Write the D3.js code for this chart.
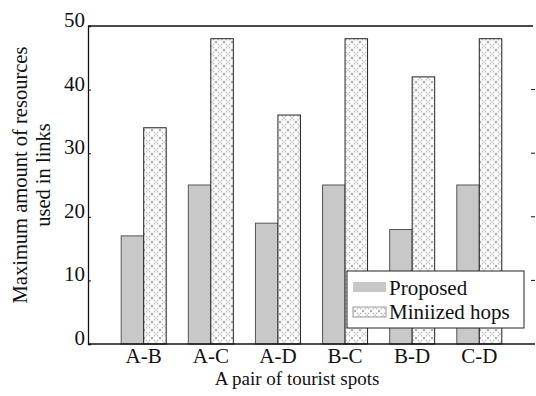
<!DOCTYPE html>
<html>
<head>
<meta charset="utf-8">
<script src="https://cdn.jsdelivr.net/npm/d3@7"></script>
<style>
  body { margin: 0; background: #fff; }
</style>
</head>
<body>
<div id="chart"></div>
<script>
var pairs = ["A-B", "A-C", "A-D", "B-C", "B-D", "C-D"];
var proposed = [17, 25, 19, 25, 18, 25];
var minHops = [34, 48, 36, 48, 42, 48];
var yTicks = [0, 10, 20, 30, 40, 50];
var seriesNames = ["Proposed", "Miniized hops"];

var serif = "'Liberation Serif'";

var margin = {top: 26, right: 1, bottom: 52, left: 88},
    width = 536 - margin.left - margin.right,
    height = 396 - margin.top - margin.bottom;

var svg = d3.select("#chart")
  .append("svg")
    .attr("width", 536)
    .attr("height", 396);

var defs = svg.append("defs");
var pat = defs.append("pattern")
    .attr("id", "xhatch")
    .attr("patternUnits", "userSpaceOnUse")
    .attr("width", 8)
    .attr("height", 8);
pat.append("rect").attr("width", 8).attr("height", 8).attr("fill", "#fff");
pat.append("path")
    .attr("d", "M0,0L8,8M8,0L0,8")
    .attr("stroke", "#a8a8a8")
    .attr("stroke-width", 1.1)
    .attr("stroke-dasharray", "1.4,1.1");

var g = svg.append("g")
    .attr("transform", "translate(" + margin.left + "," + margin.top + ")");

var x = d3.scalePoint()
    .domain(pairs)
    .range([0, width])
    .padding(0.83);

var y = d3.scaleLinear()
    .domain([0, 50])
    .range([height, 0]);

var barW = 22.5;

// proposed bars
g.append("g")
  .selectAll("rect")
  .data(pairs)
  .enter()
  .append("rect")
    .attr("x", function(d) { return x(d) - barW; })
    .attr("y", function(d, i) { return y(proposed[i]); })
    .attr("width", barW)
    .attr("height", function(d, i) { return height - y(proposed[i]); })
    .attr("fill", "#c8c8c8")
    .attr("stroke", "#555")
    .attr("stroke-width", 1);

// minimized hops bars
g.append("g")
  .selectAll("rect")
  .data(pairs)
  .enter()
  .append("rect")
    .attr("x", function(d) { return x(d); })
    .attr("y", function(d, i) { return y(minHops[i]); })
    .attr("width", barW)
    .attr("height", function(d, i) { return height - y(minHops[i]); })
    .attr("fill", "url(#xhatch)")
    .attr("stroke", "#222")
    .attr("stroke-width", 1);

// left axis
var yAxis = g.append("g")
    .call(d3.axisRight(y).tickValues(yTicks).tickSize(3).tickFormat(""));
yAxis.select(".domain").attr("stroke", "#111").attr("stroke-width", 1.3);
yAxis.selectAll(".tick line").attr("stroke", "#111");

g.append("g")
  .selectAll("text")
  .data(yTicks)
  .enter()
  .append("text")
    .attr("x", -3)
    .attr("y", function(d) { return y(d) + 1; })
    .attr("text-anchor", "end")
    .style("font-family", serif)
    .style("font-size", "21px")
    .attr("fill", "#111")
    .text(function(d) { return d; });

// right ticks (the right axis line falls at the image edge)
g.append("g")
  .selectAll("line")
  .data(yTicks.slice(1, 5))
  .enter()
  .append("line")
    .attr("x1", width - 4)
    .attr("x2", width)
    .attr("y1", function(d) { return y(d); })
    .attr("y2", function(d) { return y(d); })
    .attr("stroke", "#111");

// top and bottom lines
g.append("line")
    .attr("x1", 0).attr("x2", width - 2)
    .attr("y1", 0).attr("y2", 0)
    .attr("stroke", "#111").attr("stroke-width", 1.3);
g.append("line")
    .attr("x1", 0).attr("x2", width)
    .attr("y1", height).attr("y2", height)
    .attr("stroke", "#111").attr("stroke-width", 1.3);

// x labels
g.append("g")
  .selectAll("text")
  .data(pairs)
  .enter()
  .append("text")
    .attr("x", function(d) { return x(d); })
    .attr("y", height + 19)
    .attr("text-anchor", "middle")
    .style("font-family", serif)
    .style("font-size", "21px")
    .attr("fill", "#111")
    .text(function(d) { return d; });

svg.append("text")
    .attr("x", 297)
    .attr("y", 385)
    .attr("text-anchor", "middle")
    .style("font-family", serif)
    .style("font-size", "19px")
    .attr("fill", "#111")
    .text("A pair of tourist spots");

var yl = svg.append("text")
    .attr("transform", "translate(27,175) rotate(-90)")
    .attr("text-anchor", "middle")
    .style("font-family", serif)
    .style("font-size", "20.5px")
    .attr("fill", "#111");
yl.append("tspan").attr("x", 0).attr("dy", 0).text("Maximum amount of resources");
yl.append("tspan").attr("x", 0).attr("dy", 23).text("used in links");

// legend
var leg = svg.append("g").attr("transform", "translate(347,271)");
leg.append("rect")
    .attr("width", 177).attr("height", 57)
    .attr("fill", "#fff").attr("stroke", "#222").attr("stroke-width", 1);
leg.append("rect")
    .attr("x", 6).attr("y", 11).attr("width", 33).attr("height", 10)
    .attr("fill", "#c8c8c8");
leg.append("rect")
    .attr("x", 6).attr("y", 36).attr("width", 33).attr("height", 10)
    .attr("fill", "url(#xhatch)").attr("stroke", "#999");
leg.selectAll("text.lbl")
  .data(seriesNames)
  .enter()
  .append("text")
    .attr("class", "lbl")
    .attr("x", 42)
    .attr("y", function(d, i) { return 24 + i * 24; })
    .style("font-family", serif)
    .style("font-size", "21px")
    .attr("fill", "#111")
    .text(function(d) { return d; });
</script>
</body>
</html>
